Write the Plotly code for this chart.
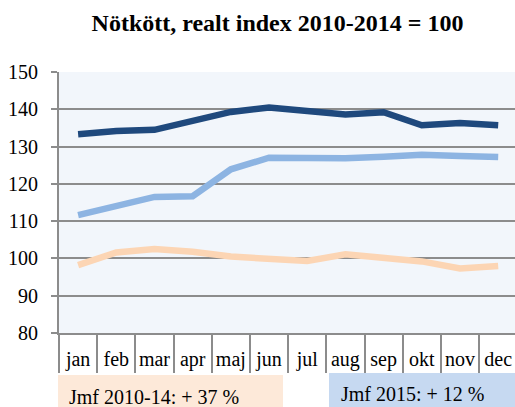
import plotly.graph_objects as go

months = ["jan", "feb", "mar", "apr", "maj", "jun", "jul", "aug", "sep", "okt", "nov", "dec"]
serie_mork = [133.3, 134.2, 134.5, 137.0, 139.3, 140.5, 139.7, 138.6, 139.2, 135.7, 136.3, 135.7]
serie_ljus = [111.6, 114.2, 116.5, 116.7, 123.9, 127.0, 126.8, 126.9, 127.3, 127.8, 127.5, 127.2]
serie_persika = [98.2, 101.6, 102.5, 101.8, 100.5, 99.7, 99.3, 101.1, 100.3, 99.2, 97.3, 98.0]
yticks = [80, 90, 100, 110, 120, 130, 140, 150]
note_left = "Jmf 2010-14: + 37 %"
note_right = "Jmf 2015: + 12 %"
title_text = "<b>Nötkött, realt index 2010-2014 = 100</b>"

FONT = "Liberation Serif, Times New Roman, serif"
GRID = "#8C8C8C"

fig = go.Figure()
for vals, col in [(serie_persika, "#FCD5B4"), (serie_ljus, "#8DB4E2"), (serie_mork, "#1F497D")]:
    fig.add_trace(go.Scatter(x=months, y=vals, mode="lines",
                             line=dict(color=col, width=6.5), showlegend=False,
                             hoverinfo="skip"))
# invisible trace on the overlay axis carrying the long category dividers
fig.add_trace(go.Scatter(x=months, y=[None] * len(months), xaxis="x2", mode="lines",
                         showlegend=False, hoverinfo="skip"))

fig.update_layout(
    width=515, height=407,
    margin=dict(l=59, r=0, t=72, b=74),
    paper_bgcolor="white",
    plot_bgcolor="#F2F6FB",
    font=dict(family=FONT, size=20, color="black"),
    title=dict(text=title_text, x=277.5 / 515, xanchor="center", xref="container",
               y=1 - 23 / 407, yanchor="middle", yref="container",
               font=dict(family=FONT, size=24, color="black")),
    showlegend=False,
    xaxis2=dict(type="category", categoryorder="array", categoryarray=months,
                range=[-0.5, 11.44], overlaying="x", side="bottom", anchor="y",
                showgrid=False, showline=False, showticklabels=False,
                ticks="outside", tickson="boundaries", ticklen=39, tickwidth=2,
                tickcolor=GRID, automargin=False, zeroline=False),
    xaxis=dict(
        type="category", categoryorder="array", categoryarray=months,
        range=[-0.5, 11.44],
        showgrid=False, showline=True, linecolor=GRID, linewidth=2,
        ticks="", tickangle=0, ticklabelstandoff=7, automargin=False,
        tickfont=dict(family=FONT, size=20, color="black"),
        zeroline=False,
    ),
)
fig.update_yaxes(
    range=[80, 150], tickvals=yticks, ticktext=[str(v) for v in yticks],
    showgrid=True, gridcolor=GRID, gridwidth=2,
    showline=True, linecolor=GRID, linewidth=2,
    ticks="outside", ticklen=6, tickwidth=2, tickcolor=GRID, ticklabelstandoff=9,
    tickfont=dict(family=FONT, size=20, color="black"),
    zeroline=False, automargin=False,
)

# annotation boxes below the chart
def px_x(p):
    return (p - 59) / 456

def px_y(p):
    return (333 - p) / 261

fig.add_shape(type="rect", xref="paper", yref="paper",
              x0=px_x(58), x1=px_x(283), y0=px_y(412), y1=px_y(375),
              fillcolor="#FDE9D9", line=dict(width=0), layer="below")
fig.add_shape(type="rect", xref="paper", yref="paper",
              x0=px_x(329), x1=px_x(520), y0=px_y(412), y1=px_y(373),
              fillcolor="#C6D9F1", line=dict(width=0), layer="below")
fig.add_annotation(text=note_left, xref="paper", yref="paper",
                   x=px_x(67), y=px_y(397), xanchor="left", yanchor="middle",
                   showarrow=False, font=dict(family=FONT, size=20, color="black"))
fig.add_annotation(text=note_right, xref="paper", yref="paper",
                   x=px_x(339), y=px_y(394), xanchor="left", yanchor="middle",
                   showarrow=False, font=dict(family=FONT, size=20, color="black"))

fig.write_html("out.html", config={"displayModeBar": False},
               post_script="document.body.style.margin='0px';")
